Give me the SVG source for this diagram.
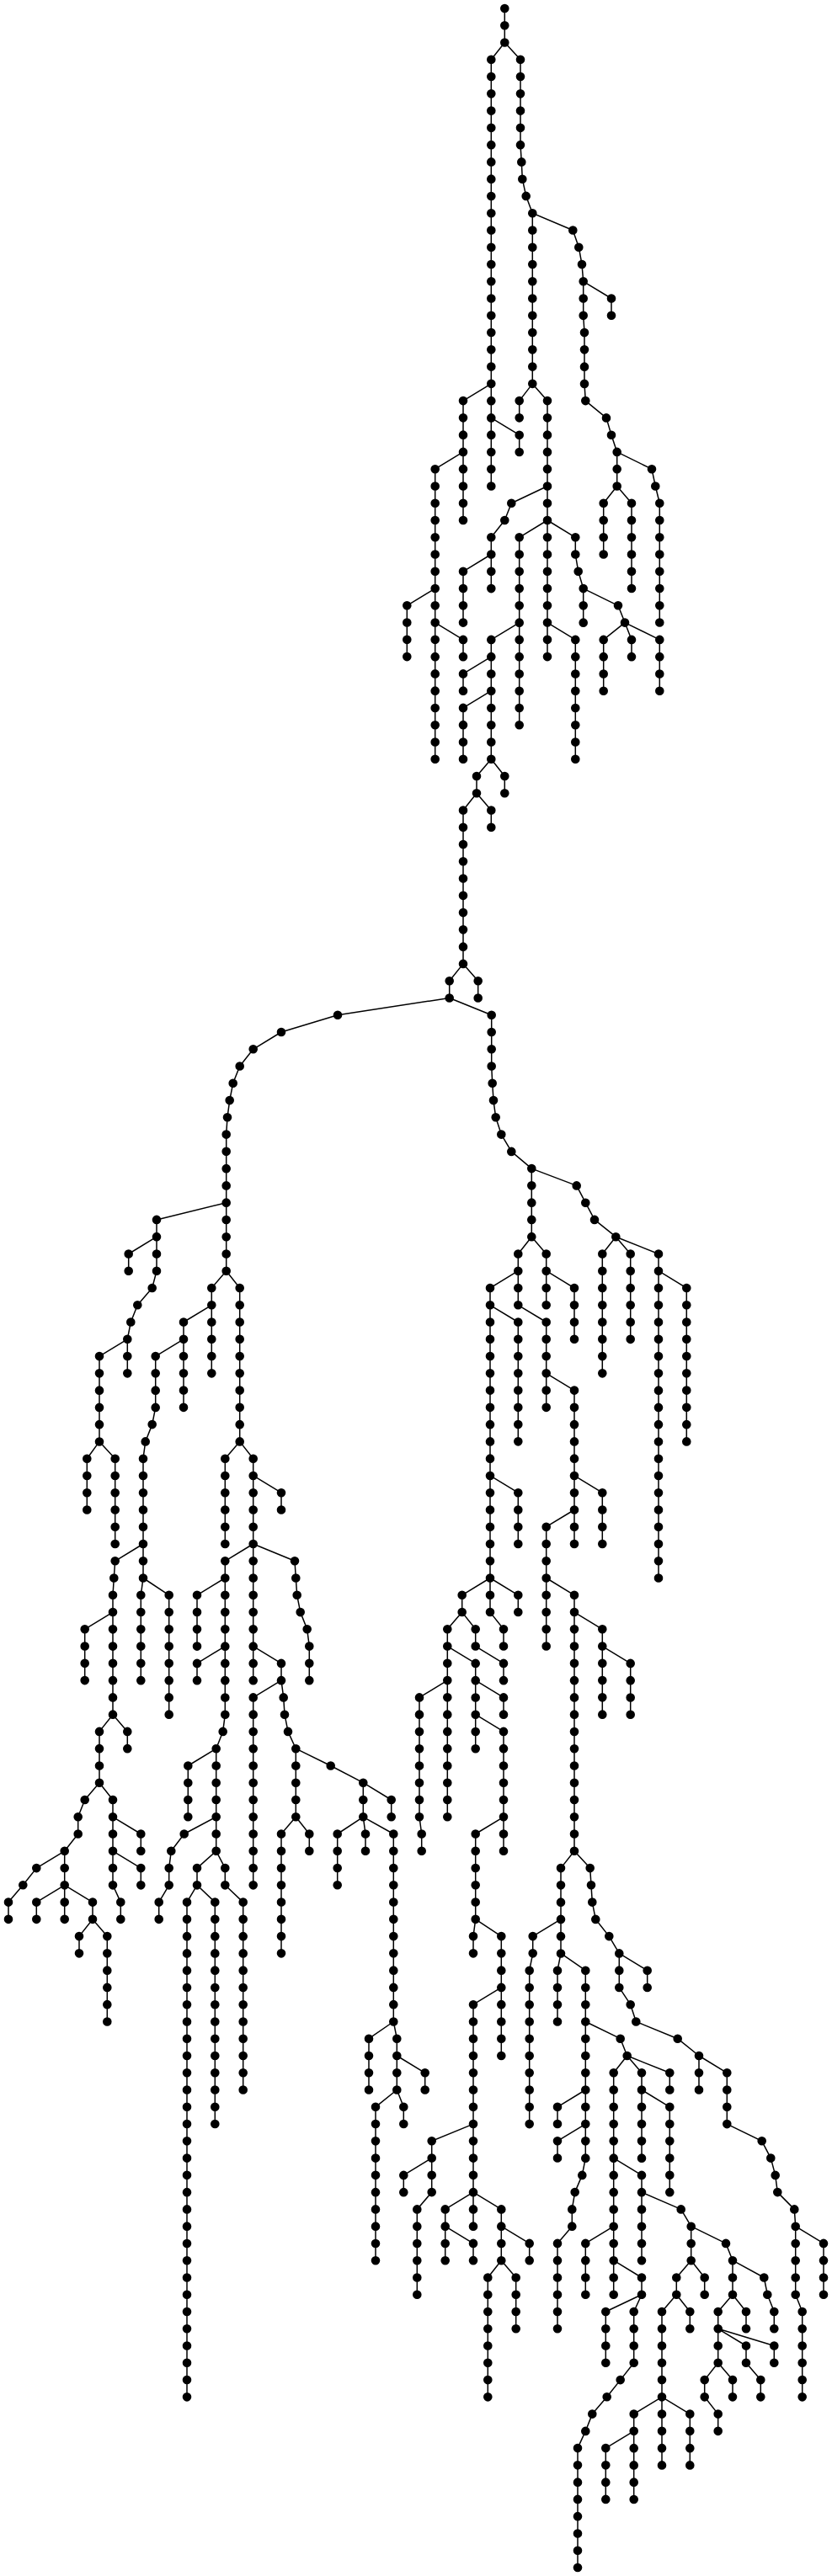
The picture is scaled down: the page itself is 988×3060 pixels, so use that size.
<svg xmlns="http://www.w3.org/2000/svg" width="988" height="3060" viewBox="0 0 988 3060">
<style>
.e path{fill:none;stroke:#000;stroke-width:1.5;stroke-linejoin:round}
.n path{fill:none;stroke:#000;stroke-width:10.6;stroke-linecap:round;stroke-dasharray:0 20.2667}
</style>
<rect width="988" height="3060" fill="#fff"/>
<g id="connectors" class="e">
<path id="e-top" d="M599.3 10V50.5M599.3 50.5L583.3 70.8V577.5M599.3 50.5L618 70.8V172.1L619.3 192.4L620.3 212.7L624.7 232.9L632.3 253.2V455.9M583.3 455.9L550 476.1V618M583.3 496.4L616.7 516.7V536.9M550 536.9L516.7 557.2V901.7M516.7 699.1L483.3 719.3V780.1M516.7 739.6L550 759.9V780.1M632.3 455.9L616.7 476.1V496.4M632.3 455.9L650 476.1V780.1M650 577.5L607.3 597.7L599.3 618L583.3 638.3V699.1M583.3 658.5L550 678.8V739.6M650 618L616.7 638.3V861.2M650 618L683.3 638.3V658.5L686.7 678.8L692.7 699.1V739.6M692.7 699.1L734 719.3L742 739.6M742 739.6L716.7 759.9V820.7M742 739.6L750 759.9V780.1M742 739.6L783.3 759.9V820.7M650 739.6L683.3 759.9V901.7M616.7 739.6L583.3 759.9V901.7M583.3 780.1L550 800.4V820.7M583.3 820.7L550 840.9V901.7M583.3 901.7L566 922V942.3M583.3 901.7L599.3 922V942.3M566 942.3L550 962.5V1144.9M566 942.3L583.3 962.5V982.8M550 1144.9L533.7 1165.2V1185.5M550 1144.9L567.7 1165.2V1185.5M632.3 253.2L680.3 273.5L687.3 293.7L691 314L692.7 334.3V374.8L694 395.1V455.9L695.3 476.1L720 496.4L726 516.7L732.7 536.9V577.5M692.7 334.3L726 354.5V374.8M732.7 536.9L774 557.2L778.3 577.5L783.3 597.7V739.6M732.7 577.5L716.7 597.7V658.5M732.7 577.5L750 597.7V699.1"/>
<path id="e-left" d="M533.7 1185.5L401 1205.7L334 1226L300.7 1246.3L284.7 1266.5L276.7 1286.8L272.7 1307.1L270 1327.3L268.7 1347.6V1509.7M268.7 1428.7L186 1448.9V1509.7L180.7 1530L163.3 1550.3L155.3 1570.5L151.3 1590.8V1631.3M186 1469.2L152.7 1489.5V1509.7M151.3 1590.8L118 1611.1V1712.4M118 1712.4L103.3 1732.7V1793.5M118 1712.4L136.7 1732.7V1834M268.7 1509.7L251.3 1530V1631.3M251.3 1550.3L218 1570.5V1671.9M218 1590.8L184.7 1611.1V1671.9L180.7 1692.1L172.7 1712.4L170 1732.7V1874.5L167.3 1894.8V1996.1M170 1834L136.7 1854.3L135.3 1874.5L134 1894.8V2036.7M170 1874.5L200.7 1894.8V2036.7M134 1915.1L100.7 1935.3V1996.1M134 2036.7L118 2056.9V2117.7M134 2036.7L151.3 2056.9V2077.2M118 2117.7L100.7 2138L92.7 2158.3V2178.5L76.7 2198.8V2239.3M118 2117.7L134 2138V2239.3L143.3 2259.6V2279.9M134 2158.3L167.3 2178.5V2198.8M134 2198.8L167.3 2219.1V2239.3M76.7 2198.8L43.3 2219.1L27.3 2239.3L10 2259.6V2279.9M76.7 2239.3L43.3 2259.6V2279.9M76.7 2239.3V2279.9M76.7 2239.3L110 2259.6V2279.9M110 2279.9L94 2300.1V2320.4M110 2279.9L127.3 2300.1V2401.5M268.7 1509.7L284.7 1530V1712.4M284.7 1712.4L267.3 1732.7V1834M284.7 1712.4L300.7 1732.7V1996.1M300.7 1752.9L334 1773.2V1793.5M300.7 1834L267.3 1854.3V2036.7L264.7 2056.9L256.7 2077.2V2198.8M300.7 1834L350 1854.3L351.3 1874.5L352.7 1894.8L356.7 1915.1L364.7 1935.3L367.3 1955.6V1996.1M267.3 1874.5L234 1894.8V1955.6M267.3 1955.6L234 1975.9V1996.1M300.7 1955.6L334 1975.9V1996.1L336.7 2016.4L338 2036.7L342 2056.9L351.3 2077.2V2158.3M334 1996.1L300.7 2016.4V2239.3M256.7 2077.2L223.3 2097.5V2158.3M256.7 2158.3L218.7 2178.5L203.3 2198.8L200.7 2219.1V2239.3L188.7 2259.6V2279.9M256.7 2198.8L234 2219.1V2239.3M256.7 2198.8L267.3 2219.1V2239.3M234 2239.3L222 2259.6V2847.3M234 2239.3L255.3 2259.6V2523.1M267.3 2239.3L288.7 2259.6V2482.5M351.3 2077.2L392.7 2097.5L431.3 2117.7V2158.3M351.3 2158.3L334 2178.5V2320.4M351.3 2158.3L367.3 2178.5V2198.8M431.3 2117.7L464.7 2138V2158.3M431.3 2158.3L400.7 2178.5V2239.3M431.3 2158.3L434 2178.5V2198.8M431.3 2158.3L467.3 2178.5V2401.5M467.3 2401.5L438 2421.7V2482.5M467.3 2401.5L471.3 2421.7V2482.5M471.3 2442L504.7 2462.3V2482.5M471.3 2482.5L446 2502.8V2685.2M471.3 2482.5L479.3 2502.8V2523.1"/>
<path id="e-right" d="M533.7 1185.5L583.7 1205.7V1266.5L584.7 1286.8L586 1307.1L588.7 1327.3L595.3 1347.6L607.3 1367.9L631.3 1388.1V1469.2M631.3 1388.1L684.7 1408.4L695.3 1428.7L706 1448.9L731.3 1469.2M631.3 1469.2L615.3 1489.5V1550.3M631.3 1469.2L648.7 1489.5V1550.3M615.3 1509.7L582 1530V1874.5M582 1550.3L615.3 1570.5V1712.4M615.3 1550.3L648.7 1570.5V1671.9M648.7 1631.3L682 1651.6V1834M648.7 1509.7L682 1530V1590.8M731.3 1469.2L715.3 1489.5V1631.3M731.3 1469.2L748.7 1489.5V1590.8M731.3 1469.2L782 1489.5V1874.5M782 1509.7L815.3 1530V1712.4M582 1752.9L615.3 1773.2V1834M682 1752.9L715.3 1773.2V1834M682 1793.5L648.7 1813.7V1955.6M648.7 1874.5L682 1894.8V2198.8M682 1915.1L715.3 1935.3V2036.7M715.3 1955.6L748.7 1975.9V2036.7M582 1874.5L548.7 1894.8V1915.1M582 1874.5V1915.1M582 1915.1L598 1935.3V1955.6M582 1874.5L615.3 1894.8V1915.1M548.7 1915.1L531.3 1935.3V2158.3M548.7 1915.1L564.7 1935.3V1955.6M564.7 1955.6L598 1975.9V1996.1M531.3 1955.6L564.7 1975.9V2077.2M531.3 1996.1L498 2016.4V2158.3L500.7 2178.5V2198.8M564.7 1996.1L598 2016.4V2036.7M564.7 2036.7L598 2056.9V2198.8M598 2158.3L564.7 2178.5V2279.9M564.7 2279.9L562 2300.1V2320.4M564.7 2279.9L595.3 2300.1V2442M595.3 2360.9L562 2381.2V2604.1M562 2523.1L512.7 2543.3V2604.1M512.7 2563.6L479.3 2583.9V2604.1M512.7 2604.1L495.3 2624.4V2725.7M562 2604.1L528.7 2624.4V2685.2M562 2604.1V2644.7M562 2604.1L595.3 2624.4V2685.2M528.7 2644.7L562 2664.9V2685.2M595.3 2644.7L628.7 2664.9V2685.2M595.3 2685.2L579.3 2705.5V2847.3M595.3 2685.2L612.7 2705.5V2766.3"/>
<path id="e-low" d="M682 2198.8L666 2219.1V2320.4M682 2198.8L700.7 2219.1L702 2239.3L703.3 2259.6L707.3 2279.9L723.3 2300.1L735.3 2320.4V2360.9L748.7 2381.2L755.3 2401.5L804.7 2421.7L830 2442M666 2279.9L632.7 2300.1V2320.4L628.7 2340.7V2523.1M666 2320.4L662 2340.7V2401.5M666 2320.4L695.3 2340.7V2563.6L691.3 2583.9L682.7 2604.1L679.3 2624.4V2644.7L662 2664.9V2766.3M695.3 2482.5L662 2502.8V2523.1M695.3 2523.1L662 2543.3V2563.6M735.3 2320.4L768.7 2340.7V2360.9M830 2442V2482.5M830 2442L863.3 2462.3V2523.1L904.7 2543.3L915.3 2563.6L920.7 2583.9L923.3 2604.1L943.3 2624.4L944.7 2644.7V2725.7L952.7 2746V2847.3M944.7 2644.7L978 2664.9V2725.7M695.3 2401.5L736.7 2421.7L744.7 2442M744.7 2442L728.7 2462.3V2725.7M744.7 2442L762 2462.3V2563.6M744.7 2442L795.3 2462.3V2482.5M762 2482.5L795.3 2502.8V2604.1M728.7 2563.6L762 2583.9V2685.2M762 2604.1L808.7 2624.4L820.7 2644.7V2685.2M728.7 2644.7L695.3 2664.9V2725.7M728.7 2685.2L762 2705.5V2725.7M820.7 2644.7L862 2664.9L870 2685.2V2725.7M820.7 2685.2L803.3 2705.5V2725.7M820.7 2685.2L836.7 2705.5V2725.7M870 2685.2L907.3 2705.5L911.3 2725.7L919.3 2746V2766.3M762 2725.7L719.3 2746V2806.8M762 2725.7L752.7 2746V2806.8L736.7 2827.1L720.7 2847.3L703.3 2867.6L695.3 2887.9L686 2908.1V3050M803.3 2725.7L786 2746V2928.4M803.3 2725.7L819.3 2746V2766.3M786 2847.3L752.7 2867.6V2968.9M786 2847.3L819.3 2867.6V2928.4M752.7 2887.9L719.3 2908.1V2968.9M870 2725.7L852.7 2746V2806.8M870 2725.7L886 2746V2766.3M852.7 2766.3L886 2786.5V2806.8L903.3 2827.1V2847.3M852.7 2766.3L919.3 2786.5V2806.8M852.7 2806.8L836.7 2827.1V2847.3L852.7 2867.6V2887.9M852.7 2806.8L870 2827.1V2847.3"/>
</g>
<g id="nodes" class="n">
<path id="c1" d="M599.3 10V51"/>
<path id="c2" d="M583.3 70.8V578"/>
<path id="c3" d="M618 70.8V172.6M619.3 192.4v.5M620.3 212.7v.5M624.7 232.9v.5M632.3 253.2V456.4"/>
<path id="c4" d="M550 476.1V618.5"/>
<path id="c5" d="M616.7 516.7V537.4"/>
<path id="c6" d="M516.7 557.2V902.2"/>
<path id="c7" d="M483.3 719.3V780.6"/>
<path id="c8" d="M550 759.9V780.6"/>
<path id="c9" d="M616.7 476.1V496.9"/>
<path id="c10" d="M650 476.1V780.6"/>
<path id="c11" d="M607.3 597.7v.5M599.3 618v.5M583.3 638.3V699.6"/>
<path id="c12" d="M550 678.8V740.1"/>
<path id="c13" d="M616.7 638.3V861.7"/>
<path id="c14" d="M683.3 638.3V659M686.7 678.8v.5M692.7 699.1V740.1"/>
<path id="c15" d="M734 719.3v.5M742 739.6v.5"/>
<path id="c16" d="M716.7 759.9V821.2"/>
<path id="c17" d="M750 759.9V780.6"/>
<path id="c18" d="M783.3 759.9V821.2"/>
<path id="c19" d="M683.3 759.9V902.2"/>
<path id="c20" d="M583.3 759.9V902.2"/>
<path id="c21" d="M550 800.4V821.2"/>
<path id="c22" d="M550 840.9V902.2"/>
<path id="c23" d="M566 922V942.8"/>
<path id="c24" d="M599.3 922V942.8"/>
<path id="c25" d="M550 962.5V1145.4"/>
<path id="c26" d="M583.3 962.5V983.3"/>
<path id="c27" d="M533.7 1165.2V1186"/>
<path id="c28" d="M567.7 1165.2V1186"/>
<path id="c29" d="M680.3 273.5v.5M687.3 293.7v.5M691 314v.5M692.7 334.3V375.3M694 395.1V456.4M695.3 476.1v.5M720 496.4v.5M726 516.7v.5M732.7 536.9V578"/>
<path id="c30" d="M726 354.5V375.3"/>
<path id="c31" d="M774 557.2v.5M778.3 577.5v.5M783.3 597.7V740.1"/>
<path id="c32" d="M716.7 597.7V659"/>
<path id="c33" d="M750 597.7V699.6"/>
<path id="c34" d="M401 1205.7v.5M334 1226v.5M300.7 1246.3v.5M284.7 1266.5v.5M276.7 1286.8v.5M272.7 1307.1v.5M270 1327.3v.5M268.7 1347.6V1510.2"/>
<path id="c35" d="M186 1448.9V1510.2M180.7 1530v.5M163.3 1550.3v.5M155.3 1570.5v.5M151.3 1590.8V1631.8"/>
<path id="c36" d="M152.7 1489.5V1510.2"/>
<path id="c37" d="M118 1611.1V1712.9"/>
<path id="c38" d="M103.3 1732.7V1794"/>
<path id="c39" d="M136.7 1732.7V1834.5"/>
<path id="c40" d="M251.3 1530V1631.8"/>
<path id="c41" d="M218 1570.5V1672.4"/>
<path id="c42" d="M184.7 1611.1V1672.4M180.7 1692.1v.5M172.7 1712.4v.5M170 1732.7V1875M167.3 1894.8V1996.6"/>
<path id="c43" d="M136.7 1854.3v.5M135.3 1874.5v.5M134 1894.8V2037.2"/>
<path id="c44" d="M200.7 1894.8V2037.2"/>
<path id="c45" d="M100.7 1935.3V1996.6"/>
<path id="c46" d="M118 2056.9V2118.2"/>
<path id="c47" d="M151.3 2056.9V2077.7"/>
<path id="c48" d="M100.7 2138v.5M92.7 2158.3V2179M76.7 2198.8V2239.8"/>
<path id="c49" d="M134 2138V2239.8M143.3 2259.6V2280.4"/>
<path id="c50" d="M167.3 2178.5V2199.3"/>
<path id="c51" d="M167.3 2219.1V2239.8"/>
<path id="c52" d="M43.3 2219.1v.5M27.3 2239.3v.5M10 2259.6V2280.4"/>
<path id="c53" d="M43.3 2259.6V2280.4"/>
<path id="c54" d="M76.7 2259.6V2280.4"/>
<path id="c55" d="M110 2259.6V2280.4"/>
<path id="c56" d="M94 2300.1V2320.9"/>
<path id="c57" d="M127.3 2300.1V2402"/>
<path id="c58" d="M284.7 1530V1712.9"/>
<path id="c59" d="M267.3 1732.7V1834.5"/>
<path id="c60" d="M300.7 1732.7V1996.6"/>
<path id="c61" d="M334 1773.2V1794"/>
<path id="c62" d="M267.3 1854.3V2037.2M264.7 2056.9v.5M256.7 2077.2V2199.3"/>
<path id="c63" d="M350 1854.3v.5M351.3 1874.5v.5M352.7 1894.8v.5M356.7 1915.1v.5M364.7 1935.3v.5M367.3 1955.6V1996.6"/>
<path id="c64" d="M234 1894.8V1956.1"/>
<path id="c65" d="M234 1975.9V1996.6"/>
<path id="c66" d="M334 1975.9V1996.6M336.7 2016.4v.5M338 2036.7v.5M342 2056.9v.5M351.3 2077.2V2158.8"/>
<path id="c67" d="M300.7 2016.4V2239.8"/>
<path id="c68" d="M223.3 2097.5V2158.8"/>
<path id="c69" d="M218.7 2178.5v.5M203.3 2198.8v.5M200.7 2219.1V2239.8M188.7 2259.6V2280.4"/>
<path id="c70" d="M234 2219.1V2239.8"/>
<path id="c71" d="M267.3 2219.1V2239.8"/>
<path id="c72" d="M222 2259.6V2847.8"/>
<path id="c73" d="M255.3 2259.6V2523.6"/>
<path id="c74" d="M288.7 2259.6V2483"/>
<path id="c75" d="M392.7 2097.5v.5M431.3 2117.7V2158.8"/>
<path id="c76" d="M334 2178.5V2320.9"/>
<path id="c77" d="M367.3 2178.5V2199.3"/>
<path id="c78" d="M464.7 2138V2158.8"/>
<path id="c79" d="M400.7 2178.5V2239.8"/>
<path id="c80" d="M434 2178.5V2199.3"/>
<path id="c81" d="M467.3 2178.5V2402"/>
<path id="c82" d="M438 2421.7V2483"/>
<path id="c83" d="M471.3 2421.7V2483"/>
<path id="c84" d="M504.7 2462.3V2483"/>
<path id="c85" d="M446 2502.8V2685.7"/>
<path id="c86" d="M479.3 2502.8V2523.6"/>
<path id="c87" d="M583.7 1205.7V1267M584.7 1286.8v.5M586 1307.1v.5M588.7 1327.3v.5M595.3 1347.6v.5M607.3 1367.9v.5M631.3 1388.1V1469.7"/>
<path id="c88" d="M684.7 1408.4v.5M695.3 1428.7v.5M706 1448.9v.5M731.3 1469.2v.5"/>
<path id="c89" d="M615.3 1489.5V1550.8"/>
<path id="c90" d="M648.7 1489.5V1550.8"/>
<path id="c91" d="M582 1530V1875"/>
<path id="c92" d="M615.3 1570.5V1712.9"/>
<path id="c93" d="M648.7 1570.5V1672.4"/>
<path id="c94" d="M682 1651.6V1834.5"/>
<path id="c95" d="M682 1530V1591.3"/>
<path id="c96" d="M715.3 1489.5V1631.8"/>
<path id="c97" d="M748.7 1489.5V1591.3"/>
<path id="c98" d="M782 1489.5V1875"/>
<path id="c99" d="M815.3 1530V1712.9"/>
<path id="c100" d="M615.3 1773.2V1834.5"/>
<path id="c101" d="M715.3 1773.2V1834.5"/>
<path id="c102" d="M648.7 1813.7V1956.1"/>
<path id="c103" d="M682 1894.8V2199.3"/>
<path id="c104" d="M715.3 1935.3V2037.2"/>
<path id="c105" d="M748.7 1975.9V2037.2"/>
<path id="c106" d="M548.7 1894.8V1915.6"/>
<path id="c107" d="M582 1894.8V1915.6"/>
<path id="c108" d="M598 1935.3V1956.1"/>
<path id="c109" d="M615.3 1894.8V1915.6"/>
<path id="c110" d="M531.3 1935.3V2158.8"/>
<path id="c111" d="M564.7 1935.3V1956.1"/>
<path id="c112" d="M598 1975.9V1996.6"/>
<path id="c113" d="M564.7 1975.9V2077.7"/>
<path id="c114" d="M498 2016.4V2158.8M500.7 2178.5V2199.3"/>
<path id="c115" d="M598 2016.4V2037.2"/>
<path id="c116" d="M598 2056.9V2199.3"/>
<path id="c117" d="M564.7 2178.5V2280.4"/>
<path id="c118" d="M562 2300.1V2320.9"/>
<path id="c119" d="M595.3 2300.1V2442.5"/>
<path id="c120" d="M562 2381.2V2604.6"/>
<path id="c121" d="M512.7 2543.3V2604.6"/>
<path id="c122" d="M479.3 2583.9V2604.6"/>
<path id="c123" d="M495.3 2624.4V2726.2"/>
<path id="c124" d="M528.7 2624.4V2685.7"/>
<path id="c125" d="M562 2624.4V2645.2"/>
<path id="c126" d="M595.3 2624.4V2685.7"/>
<path id="c127" d="M562 2664.9V2685.7"/>
<path id="c128" d="M628.7 2664.9V2685.7"/>
<path id="c129" d="M579.3 2705.5V2847.8"/>
<path id="c130" d="M612.7 2705.5V2766.8"/>
<path id="c131" d="M666 2219.1V2320.9"/>
<path id="c132" d="M700.7 2219.1v.5M702 2239.3v.5M703.3 2259.6v.5M707.3 2279.9v.5M723.3 2300.1v.5M735.3 2320.4V2361.4M748.7 2381.2v.5M755.3 2401.5v.5M804.7 2421.7v.5M830 2442v.5"/>
<path id="c133" d="M632.7 2300.1V2320.9M628.7 2340.7V2523.6"/>
<path id="c134" d="M662 2340.7V2402"/>
<path id="c135" d="M695.3 2340.7V2564.1M691.3 2583.9v.5M682.7 2604.1v.5M679.3 2624.4V2645.2M662 2664.9V2766.8"/>
<path id="c136" d="M662 2502.8V2523.6"/>
<path id="c137" d="M662 2543.3V2564.1"/>
<path id="c138" d="M768.7 2340.7V2361.4"/>
<path id="c139" d="M830 2462.3V2483"/>
<path id="c140" d="M863.3 2462.3V2523.6M904.7 2543.3v.5M915.3 2563.6v.5M920.7 2583.9v.5M923.3 2604.1v.5M943.3 2624.4v.5M944.7 2644.7V2726.2M952.7 2746V2847.8"/>
<path id="c141" d="M978 2664.9V2726.2"/>
<path id="c142" d="M736.7 2421.7v.5M744.7 2442v.5"/>
<path id="c143" d="M728.7 2462.3V2726.2"/>
<path id="c144" d="M762 2462.3V2564.1"/>
<path id="c145" d="M795.3 2462.3V2483"/>
<path id="c146" d="M795.3 2502.8V2604.6"/>
<path id="c147" d="M762 2583.9V2685.7"/>
<path id="c148" d="M808.7 2624.4v.5M820.7 2644.7V2685.7"/>
<path id="c149" d="M695.3 2664.9V2726.2"/>
<path id="c150" d="M762 2705.5V2726.2"/>
<path id="c151" d="M862 2664.9v.5M870 2685.2V2726.2"/>
<path id="c152" d="M803.3 2705.5V2726.2"/>
<path id="c153" d="M836.7 2705.5V2726.2"/>
<path id="c154" d="M907.3 2705.5v.5M911.3 2725.7v.5M919.3 2746V2766.8"/>
<path id="c155" d="M719.3 2746V2807.3"/>
<path id="c156" d="M752.7 2746V2807.3M736.7 2827.1v.5M720.7 2847.3v.5M703.3 2867.6v.5M695.3 2887.9v.5M686 2908.1V3050.5"/>
<path id="c157" d="M786 2746V2928.9"/>
<path id="c158" d="M819.3 2746V2766.8"/>
<path id="c159" d="M752.7 2867.6V2969.4"/>
<path id="c160" d="M819.3 2867.6V2928.9"/>
<path id="c161" d="M719.3 2908.1V2969.4"/>
<path id="c162" d="M852.7 2746V2807.3"/>
<path id="c163" d="M886 2746V2766.8"/>
<path id="c164" d="M886 2786.5V2807.3M903.3 2827.1V2847.8"/>
<path id="c165" d="M919.3 2786.5V2807.3"/>
<path id="c166" d="M836.7 2827.1V2847.8M852.7 2867.6V2888.4"/>
<path id="c167" d="M870 2827.1V2847.8"/>
</g>
</svg>
